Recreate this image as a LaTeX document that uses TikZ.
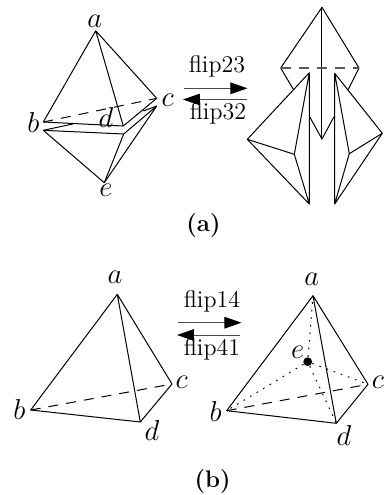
\documentclass[tikz,border=0pt]{standalone}
\usepackage{tikz}
\usetikzlibrary{arrows.meta}

\tikzset{
    vertexlabel/.style={font=\fontsize{14}{16}\selectfont, inner sep=0pt},
    fliplabel/.style={font=\large, inner sep=0pt},
    caption/.style={font=\large\bfseries, inner sep=0pt},
    hidden/.style={dash pattern=on 5pt off 4pt},
    inner/.style={dash pattern=on .8pt off 3pt},
    fliparrow/.style={-{Triangle[length=8.5pt,width=5.8pt,color=black]}, line width=.5pt, black!70}
}

\begin{document}
\begin{tikzpicture}[x=.5pt, y=-.5pt, line width=.5pt, line join=round]
    \useasboundingbox (0,0) rectangle (387,495);

    % Vertices (a), left
    \coordinate (a1) at (95.7,30.7);
    \coordinate (b1) at (43.3,122);
    \coordinate (c1) at (156.7,98.3);
    \coordinate (d1) at (123.3,126);
    \coordinate (b2) at (43.3,130.3);
    \coordinate (c2) at (156.7,106);
    \coordinate (d2) at (123.7,134);
    \coordinate (e2) at (104.3,182.7);
    \coordinate (f1) at (72.7,124);
    \coordinate (f2) at (143.3,111);

    % Edges (a), left
    \draw (a1) -- (b1) -- (d1) -- (c1) -- (a1) -- (d1);
    \draw[hidden] (b1) -- (c1);
    \draw (b2) -- (d2) -- (c2) -- (e2) -- (b2);
    \draw (d2) -- (e2);
    \draw (b2) -- (f1);
    \draw (c2) -- (f2);

    % Labels (a), left
    \node[vertexlabel] (la1) at (94.7,21) {$a$};
    \node[vertexlabel] (lb1) at (33.3,122.7) {$b$};
    \node[vertexlabel] (lc1) at (167.7,100) {$c$};
    \node[vertexlabel] (ld1) at (106,117.3) {$d$};
    \node[vertexlabel] (le1) at (106,190.7) {$e$};

    % Arrows (a)
    \coordinate (p1) at (184,88.3);
    \coordinate (q1) at (247.5,88.3);
    \coordinate (p2) at (246.7,99.5);
    \coordinate (q2) at (183,99.5);
    \draw[fliparrow] (p1) -- (q1);
    \draw[fliparrow] (p2) -- (q2);
    \node[fliplabel] (flip23) at (217,66) {flip23};
    \node[fliplabel] (flip32) at (218,113) {flip32};

    % Vertices (a), right
    \coordinate (top) at (322,7.3);
    \coordinate (mid1) at (280.7,68);
    \coordinate (mid2) at (359,68);
    \coordinate (low) at (322,139);
    \coordinate (cut1) at (293.3,89.3);
    \coordinate (cut2) at (348.3,89.3);
    \coordinate (cut3) at (310,117.3);
    \coordinate (cut4) at (334,116.7);

    % Edges (a), right
    \draw (cut1) -- (mid1) -- (top) -- (mid2) -- (cut2);
    \draw (top) -- (low);
    \draw (cut3) -- (low) -- (cut4);
    \draw[hidden, black!65, line width=.55pt] (mid1) -- (mid2);

    % Left piece
    \coordinate (lp) at (309.3,72.7);
    \coordinate (lq) at (309.3,204);
    \coordinate (lr) at (247.3,139.3);
    \coordinate (ls) at (294.3,154.3);
    \draw (lp) -- (lq) -- (lr) -- (lp) -- (ls) -- (lq);
    \draw (lr) -- (ls);

    % Right piece
    \coordinate (rp) at (334.7,73.3);
    \coordinate (rq) at (334.7,204);
    \coordinate (rr) at (382.3,133.3);
    \coordinate (rs) at (349.3,153.7);
    \draw (rp) -- (rq) -- (rr) -- (rp) -- (rs) -- (rq);
    \draw (rr) -- (rs);

    \node[caption] (capa) at (203.5,226) {(a)};

    % Vertices (b), left
    \coordinate (a3) at (117.3,294.3);
    \coordinate (b3) at (30.7,410);
    \coordinate (c3) at (172,384);
    \coordinate (d3) at (140.3,422);

    % Edges (b), left
    \draw (a3) -- (b3) -- (d3) -- (c3) -- (a3) -- (d3);
    \draw[hidden] (b3) -- (c3);

    % Labels (b), left
    \node[vertexlabel] (la3) at (115,277) {$a$};
    \node[vertexlabel] (lb3) at (19.3,409) {$b$};
    \node[vertexlabel] (lc3) at (181.7,382.3) {$c$};
    \node[vertexlabel] (ld3) at (152,430) {$d$};

    % Arrows (b)
    \coordinate (p3) at (178,322.7);
    \coordinate (q3) at (241.5,322.7);
    \coordinate (p4) at (240,335);
    \coordinate (q4) at (177,335);
    \draw[fliparrow] (p3) -- (q3);
    \draw[fliparrow] (p4) -- (q4);
    \node[fliplabel] (flip14) at (212,301.7) {flip14};
    \node[fliplabel] (flip41) at (212,349) {flip41};

    % Vertices (b), right
    \coordinate (a4) at (313,295.7);
    \coordinate (b4) at (226.7,410.7);
    \coordinate (c4) at (368,384.3);
    \coordinate (d4) at (336.3,423.3);
    \node[circle, fill=black, inner sep=0pt, minimum size=4.4pt] (e4) at (307.7,361.7) {};

    % Edges (b), right
    \draw (a4) -- (b4) -- (d4) -- (c4) -- (a4) -- (d4);
    \draw[hidden] (b4) -- (c4);
    \foreach \v in {a4,b4,c4,d4}
        \draw[inner] (e4) -- (\v);

    % Labels (b), right
    \node[vertexlabel] (la4) at (311.7,279) {$a$};
    \node[vertexlabel] (lb4) at (215.7,411) {$b$};
    \node[vertexlabel] (lc4) at (378,382.3) {$c$};
    \node[vertexlabel] (ld4) at (344,435) {$d$};
    \node[vertexlabel] (le4) at (297.7,352.3) {$e$};

    \node[caption] (capb) at (212.7,481.7) {(b)};
\end{tikzpicture}
\end{document}
